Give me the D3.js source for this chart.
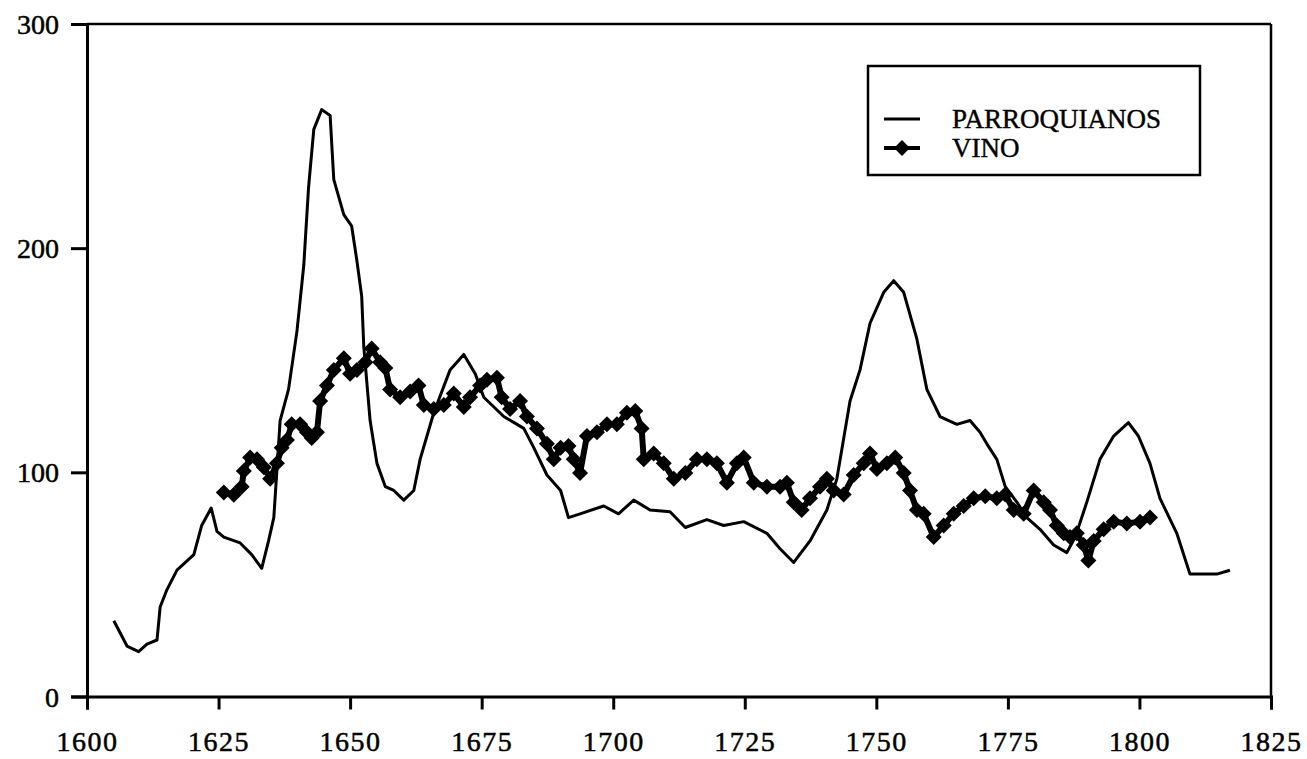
<!DOCTYPE html>
<html>
<head>
<meta charset="utf-8">
<script src="https://cdn.jsdelivr.net/npm/d3@7"></script>
<style>
  html, body { margin: 0; padding: 0; background: #fff; }
  svg { display: block; }
  svg text { font-family: "Times New Roman", Times, "Liberation Serif", "DejaVu Serif", serif !important; fill: #000; }
</style>
</head>
<body>
<svg id="chart" width="1307" height="759"></svg>
<script>
// ---- data ----
const parrYears = [1605.1,1607.6,1609.8,1611.4,1613.3,1613.9,1615.2,1617.1,1620.3,1621.8,1623.6,1624.7,1626,1629.1,1631.3,1633.2,1634.5,1635.5,1636.7,1638.3,1639.9,1641.2,1642.1,1643.1,1644.6,1646.2,1646.9,1648.8,1650.3,1651.3,1652.2,1652.6,1653.8,1655.1,1656.7,1658.3,1660.2,1662.1,1663.3,1665.9,1669,1671.6,1673.8,1675.4,1679.2,1683,1684.9,1687.4,1690,1691.5,1693.7,1698.2,1701,1703.9,1707,1710.8,1713.7,1717.8,1721,1724.8,1729.2,1731.7,1734.3,1737.4,1740.6,1742.5,1745,1746.9,1748.8,1751.4,1753.3,1755.2,1757.7,1759.6,1762.1,1765.3,1767.8,1769.7,1771,1772.9,1774.5,1776.7,1778.6,1781.1,1783.7,1786.2,1787.8,1790,1792.5,1795.1,1797.9,1799.8,1802,1803.9,1807.1,1809.6,1812.2,1814.7,1817.2];
const parrValues = [33.8,22.5,20,23.4,25.2,39.9,47.7,56.4,63.3,76.3,84.1,73.7,71.1,68.5,63.3,57.2,69.4,79.8,123.1,137,163,192.5,227,253,261.8,259.2,230.6,215,209.8,194.2,178.6,156,123.1,104,93.6,91.9,87.6,91.9,105.8,126.6,145.7,152.6,143.9,133.5,124.9,119.6,111,98.8,91.9,79.8,81.5,85,81.5,87.6,83.2,82.4,75.4,78.9,76.3,78,72.8,65.9,59.8,69.4,83.2,97.1,131.8,145.7,166.5,180.3,185.5,180.3,159.5,137,124.9,121.4,123.1,117.9,112.7,105.8,93.6,86.7,79.8,74.6,67.6,64.2,71.1,86.7,105.8,116.2,122.2,116.2,104,88.4,72.8,54.6,54.6,54.6,56.3];

const vinoYears = [1626,1627.9,1629.4,1629.8,1631,1632.3,1633.6,1634.8,1636.1,1637,1638,1638.9,1640.5,1641.8,1642.7,1643.7,1644.3,1645.6,1646.9,1648.8,1650,1651.3,1652.9,1654.1,1655.7,1656.7,1657.6,1659.5,1661.4,1663,1664,1665.9,1667.8,1669.7,1671.6,1672.8,1674.7,1676,1677.9,1678.8,1680.4,1682.3,1683.6,1685.5,1687.4,1688.7,1690,1691.5,1692.5,1693.7,1695,1696.9,1698.8,1700.7,1702.6,1704.2,1705.4,1705.8,1707.7,1709.6,1711.5,1713.7,1715.9,1717.8,1719.7,1721.6,1723.5,1724.8,1726.7,1729.2,1731.7,1733,1734.3,1735.8,1737.4,1739.3,1740.6,1741.9,1743.8,1745.7,1747.6,1748.8,1750.1,1752,1753.6,1755.2,1756.4,1757.7,1759,1760.9,1762.8,1764.7,1766.6,1768.5,1770.7,1772.9,1774.5,1776.1,1778,1779.9,1781.8,1783,1784.3,1785.6,1786.8,1788.1,1789.4,1790.3,1791.3,1793.2,1795.1,1797.6,1800.1,1802];
const vinoValues = [91,90,93.6,100.6,106.6,105.8,102.3,97.1,104,111,114.4,121.4,121.4,117.9,115.3,117.9,131.8,138.7,145.7,150.9,144,145.7,149.1,155.2,149.1,146.5,137,133.5,136.1,138.7,130,128.3,130,135.2,129.2,133.5,138.7,141.3,142.2,133.5,128.3,131.8,124.9,119.6,112.7,105.8,111,111.8,105.8,99.7,116.2,117.9,121.4,121.4,126.6,127.4,119.6,105.8,108.4,104,97.1,99.7,105.8,105.8,104,95.4,104,106.6,95.4,93.6,93.6,95.4,86.7,83.2,88.4,93.6,97.1,91.9,90.1,98.8,104,108.4,101.5,104,106.6,99.7,91.9,83.2,81.5,71.1,76.3,81.5,85,88.4,89.3,88.4,90.1,83.2,81.5,91.9,86.7,83.2,76.3,72.8,71.1,72.8,67.6,60.7,69.4,74.6,78,77.2,78,79.8];

const xTicks = [1600,1625,1650,1675,1700,1725,1750,1775,1800,1825];
const yTicks = [0,100,200,300];
const seriesNames = ["PARROQUIANOS","VINO"];

// ---- layout ----
const svg = d3.select("#chart");
const pL = 87, pR = 1271, pT = 24, pB = 696.5;
const x = d3.scaleLinear().domain([1600,1825]).range([pL,pR]);
const y = d3.scaleLinear().domain([0,300]).range([pB,pT]);

// frame (top & right)
svg.append("line").attr("x1",pL).attr("x2",pR).attr("y1",pT).attr("y2",pT)
  .attr("stroke","#000").attr("stroke-width",2.5);
svg.append("line").attr("x1",pR).attr("x2",pR).attr("y1",pT).attr("y2",pB)
  .attr("stroke","#000").attr("stroke-width",2.5);

// axes
const xAxis = d3.axisBottom(x).tickValues(xTicks).tickFormat(d3.format("d")).tickSize(13);
const gx = svg.append("g").attr("transform",`translate(0,${pB})`).call(xAxis);
const yAxis = d3.axisLeft(y).tickValues(yTicks).tickFormat(d3.format("d")).tickSize(16).tickPadding(12);
const gy = svg.append("g").attr("transform",`translate(${pL},0)`).call(yAxis);
[gx,gy].forEach(g=>{
  g.attr("font-family",null);
  g.select(".domain").attr("stroke","#000").attr("stroke-width",3);
  g.selectAll(".tick line").attr("stroke","#000").attr("stroke-width",3);
  g.selectAll(".tick text")
    .attr("font-size",28).attr("fill","#000").attr("stroke","#000").attr("stroke-width",0.5);
});
gx.selectAll(".tick text").attr("y",54).attr("dy",0).attr("letter-spacing","1.5px");
gy.selectAll(".tick text").attr("dy","0.34em");

// lines
const parrData = parrYears.map((d,i)=>({yr:d, v:parrValues[i]}));
const vinoData = vinoYears.map((d,i)=>({yr:d, v:vinoValues[i]}));
const line = d3.line().x(d=>x(d.yr)).y(d=>y(d.v));

svg.append("path").datum(parrData).attr("d",line)
  .attr("fill","none").attr("stroke","#000").attr("stroke-width",3).attr("stroke-linejoin","round");

svg.append("path").datum(vinoData).attr("d",line)
  .attr("fill","none").attr("stroke","#000").attr("stroke-width",6).attr("stroke-linejoin","round");

const diamond = (r)=>`M0,${-r}L${r},0L0,${r}L${-r},0Z`;
svg.append("g").selectAll("path").data(vinoData).join("path")
  .attr("transform",d=>`translate(${x(d.yr)},${y(d.v)})`)
  .attr("d",diamond(8)).attr("fill","#000");

// legend
const lg = svg.append("g");
lg.append("rect").attr("x",868).attr("y",66).attr("width",332).attr("height",109)
  .attr("fill","#fff").attr("stroke","#000").attr("stroke-width",2.5);
lg.append("line").attr("x1",884).attr("x2",920).attr("y1",119).attr("y2",119)
  .attr("stroke","#000").attr("stroke-width",3);
lg.append("line").attr("x1",884).attr("x2",920).attr("y1",148).attr("y2",148)
  .attr("stroke","#000").attr("stroke-width",4);
lg.append("path").attr("transform","translate(902,148)").attr("d",diamond(8)).attr("fill","#000");
lg.append("text").attr("x",952).attr("y",128).attr("font-size",27).attr("stroke","#000").attr("stroke-width",0.4).text(seriesNames[0]);
lg.append("text").attr("x",952).attr("y",157).attr("font-size",27).attr("stroke","#000").attr("stroke-width",0.4).text(seriesNames[1]);
</script>
</body>
</html>
